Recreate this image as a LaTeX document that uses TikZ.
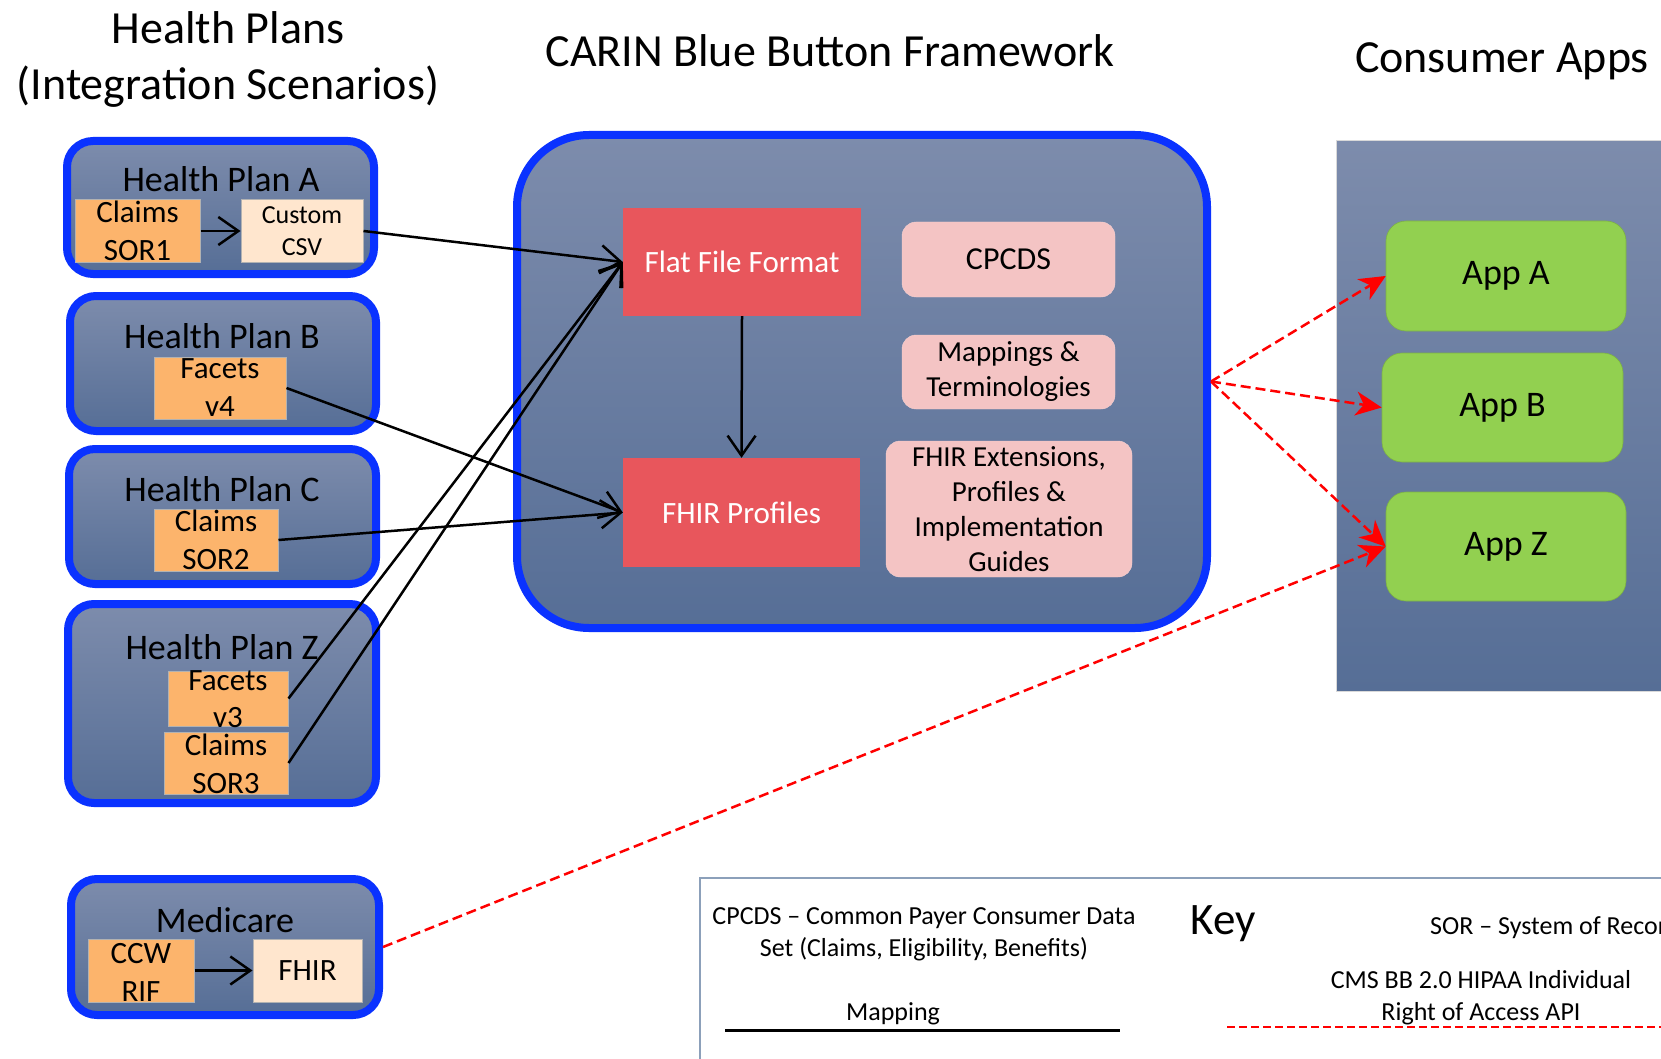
\documentclass[tikz,border=0pt]{standalone}
\usepackage{fontspec}
\setmainfont{Carlito}
\usetikzlibrary{arrows.meta}

\definecolor{bbblue}{RGB}{10,50,255}
\definecolor{slatetop}{RGB}{125,140,172}
\definecolor{slatebot}{RGB}{86,110,150}
\definecolor{orangebox}{RGB}{252,180,108}
\definecolor{peach}{RGB}{255,230,206}
\definecolor{redbox}{RGB}{232,86,92}
\definecolor{pinkbox}{RGB}{244,196,196}
\definecolor{greenbox}{RGB}{146,208,80}
\definecolor{keyline}{RGB}{140,160,186}

\newcommand{\fsz}[2]{\fontsize{#1}{#2}\selectfont}

\begin{document}
\begin{tikzpicture}[x=1pt,y=-1pt,
  planbox/.style={draw=bbblue, line width=8pt, rounded corners=26pt,
    top color=slatetop, bottom color=slatebot, inner sep=0pt},
  plantitle/.style={font=\fsz{36}{44}, inner sep=0pt},
  bigtitle/.style={font=\fsz{46}{56}, align=center, inner sep=0pt},
  subbox/.style={draw=black!30, line width=1pt, fill=orangebox, inner sep=0pt},
  lightbox/.style={subbox, fill=peach},
  subtxt/.style={font=\fsz{31}{38}, align=center, inner sep=0pt},
  redboxst/.style={fill=redbox, inner sep=0pt, text=white, font=\fsz{31}{37}},
  pinkst/.style={fill=pinkbox, draw=pinkbox!80!white, rounded corners=14pt, inner sep=0pt,
    font=\fsz{29}{35}, align=center},
  appst/.style={fill=greenbox, draw=greenbox!85!black, line width=0.6pt, rounded corners=20pt,
    inner sep=0pt, font=\fsz{36}{42}},
  maparrow/.style={line width=2.5pt, -{Straight Barb[length=20pt,width=28pt]}},
  apiarrow/.style={draw=red, line width=2.5pt, dash pattern=on 10pt off 5pt,
    -{Stealth[length=26pt,width=24pt,inset=8pt]}},
  keytxt/.style={font=\fsz{26}{32}, align=center, inner sep=0pt}
]
\useasboundingbox (0,0) rectangle (1661,1059);
\clip (0,0) rectangle (1661,1059);
\fill[white] (0,0) rectangle (1661,1059);

% titles
\node[bigtitle] (t1) at (228,59) {Health Plans\\(Integration Scenarios)};
\node[bigtitle] (t2) at (830,51) {CARIN Blue Button Framework};
\node[bigtitle] (t3) at (1502,61) {Consumer Apps};

% health plan boxes
\node[planbox, minimum width=307pt, minimum height=133pt] (hpa) at (220.5,207.5) {};
\node[planbox, minimum width=306pt, minimum height=135pt] (hpb) at (223,363.5) {};
\node[planbox, minimum width=307pt, minimum height=135pt] (hpc) at (222.5,516.5) {};
\node[planbox, minimum width=308pt, minimum height=199pt] (hpz) at (222,703.5) {};
\node[planbox, minimum width=308pt, minimum height=136pt] (med) at (225,947) {};

\node[plantitle] (hpat) at (221,179) {Health Plan A};
\node[plantitle] (hpbt) at (222,336) {Health Plan B};
\node[plantitle] (hpct) at (222,489) {Health Plan C};
\node[plantitle] (hpzt) at (222,647) {Health Plan Z};
\node[plantitle] (medt) at (225,920) {Medicare};

% sub boxes
\node[subbox, minimum width=125pt, minimum height=62pt] (sor1) at (137.5,231) {};
\node[subtxt] (sor1t) at (sor1) {Claims\\SOR1};
\node[lightbox, minimum width=122pt, minimum height=62pt] (csv) at (302,231) {};
\node[subtxt, font=\fsz{26}{32}] (csvt) at (csv) {Custom\\CSV};
\node[subbox, minimum width=132pt, minimum height=62pt] (fv4) at (220,388) {};
\node[subtxt] (fv4t) at (fv4) {Facets\\v4};
\node[subbox, minimum width=124pt, minimum height=62pt] (sor2) at (216,540) {};
\node[subtxt] (sor2t) at (sor2) {Claims\\SOR2};
\node[subbox, minimum width=120pt, minimum height=55pt] (fv3) at (228,698.5) {};
\node[subtxt, font=\fsz{31}{37}] (fv3t) at (228,699) {Facets\\v3};
\node[subbox, minimum width=124pt, minimum height=62pt] (sor3) at (226,763) {};
\node[subtxt] (sor3t) at (226,764) {Claims\\SOR3};
\node[subbox, minimum width=106pt, minimum height=63pt] (ccw) at (141,970.5) {};
\node[subtxt] (ccwt) at (141,972) {CCW\\RIF};
\node[lightbox, minimum width=109pt, minimum height=63pt] (fhir) at (307.5,970.5) {};
\node[subtxt] (fhirt) at (fhir) {FHIR};

% CARIN framework
\node[planbox, rounded corners=72pt, minimum width=690pt, minimum height=493pt] (carin) at (862,381.5) {};
\node[redboxst, minimum width=238pt, minimum height=108pt] (flat) at (742,262) {Flat File Format};
\node[redboxst, minimum width=237pt, minimum height=109pt] (prof) at (741.5,512.5) {FHIR Profiles};
\node[pinkst, font=\fsz{32}{38}, minimum width=213pt, minimum height=75pt] (cpcds) at (1008.5,259.5) {CPCDS};
\node[pinkst, minimum width=213pt, minimum height=74pt] (mapt) at (1008.5,372) {Mappings \&\\Terminologies};
\node[pinkst, minimum width=246pt, minimum height=136pt] (ext) at (1009,509) {FHIR Extensions,\\Profiles \&\\Implementation\\Guides};

% consumer apps
\node[draw=black!15, line width=1pt, top color=slatetop, bottom color=slatebot,
  minimum width=364pt, minimum height=550pt, inner sep=0pt] (apps) at (1518,416) {};
\node[appst, minimum width=240pt, minimum height=110pt] (appa) at (1506,276) {App A};
\node[appst, minimum width=241pt, minimum height=109pt] (appb) at (1502.5,407.5) {App B};
\node[appst, minimum width=240pt, minimum height=109pt] (appz) at (1506,546.5) {App Z};

% mapping arrows
\draw[maparrow] (sor1.east) -- (csv.west);
\draw[maparrow] (ccw.east) -- (fhir.west);
\draw[maparrow] (csv.east) -- (flat.west);
\draw[maparrow] (fv4.east) -- (prof.west);
\draw[maparrow] (sor2.east) -- (prof.west);
\draw[maparrow] (fv3.east) -- (flat.west);
\draw[maparrow] (sor3.east) -- (flat.west);
\draw[maparrow] (flat.south) -- (prof.north);

% API arrows
\draw[apiarrow] (carin.east) -- (appa.west);
\draw[apiarrow] (carin.east) -- (appb.west);
\draw[apiarrow] (carin.east) -- (appz.west);
\draw[apiarrow] (med.east) -- (appz.west);

% key
\node[draw=keyline, line width=2pt, minimum width=1000pt, minimum height=222pt, inner sep=0pt] (key) at (1200,989) {};
\node[keytxt] (k1) at (924,934) {CPCDS -- Common Payer Consumer Data\\Set (Claims, Eligibility, Benefits)};
\node[inner sep=0pt, font=\fsz{45}{54}, anchor=base] (k2) at (1223,934) {Key};
\node[keytxt, anchor=base west] (k3) at (1430,934) {SOR -- System of Record};
\node[keytxt, anchor=base] (k4) at (893,1020) {Mapping};
\node[keytxt] (k5) at (1481,998) {CMS BB 2.0 HIPAA Individual\\Right of Access API};
\coordinate (m1) at (725,1030);
\coordinate (m2) at (1120,1030);
\draw[line width=3pt] (m1) -- (m2);
\coordinate (r1) at (1227,1027);
\coordinate (r2) at (1700,1027);
\draw[red, line width=2.5pt, dash pattern=on 8pt off 4pt] (r1) -- (r2);
\end{tikzpicture}
\end{document}
